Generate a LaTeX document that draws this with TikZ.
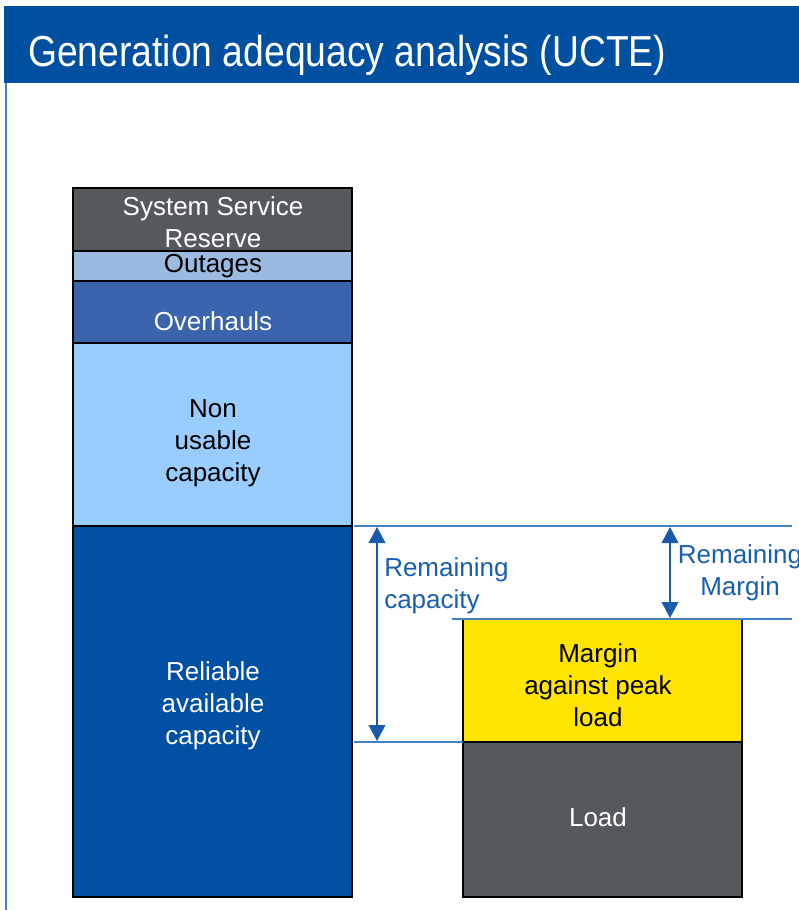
\documentclass[tikz,border=0pt]{standalone}
\usepackage{fontspec}
\setmainfont{Liberation Sans}
\usetikzlibrary{arrows.meta}
\definecolor{hdrblue}{RGB}{0,80,162}
\definecolor{ssrgrey}{RGB}{85,88,92}
\definecolor{outblue}{RGB}{155,186,224}
\definecolor{ovhblue}{RGB}{58,100,173}
\definecolor{nonblue}{RGB}{153,204,255}
\definecolor{relblue}{RGB}{0,80,165}
\definecolor{yel}{RGB}{255,229,0}
\definecolor{lineblue}{RGB}{70,128,196}
\definecolor{arrblue}{RGB}{25,90,170}
\definecolor{txtblue}{RGB}{25,95,175}
\tikzset{
  box/.style={draw=black, line width=1.5pt*0.75},
  lbl/.style={align=center, font=\fontsize{19.5pt}{24pt}\selectfont, inner sep=0pt},
  hline/.style={draw=lineblue, line width=1.5pt*0.75},
  dimarrow/.style={draw=arrblue, line width=1.8pt*0.75, {Triangle[width=12.5pt,length=12pt]}-{Triangle[width=12.5pt,length=12pt]}},
}
\begin{document}
\begin{tikzpicture}[x=0.75pt,y=-0.75pt]
\useasboundingbox (0,0) rectangle (799,910);
\clip (0,0) rectangle (799,910);
\fill[white] (0,0) rectangle (799,910);
% header
\fill[hdrblue] (4,6) rectangle (799,83);
\draw[lineblue, line width=1.2pt*0.75] (6,83) -- (6,910);
\node[anchor=base west, inner sep=0pt, text=white] (title) at (28,66)
  {\scalebox{0.86}[1]{\fontsize{32.5pt}{36pt}\selectfont Generation adequacy analysis (UCTE)}};
% left column
\path[box, fill=relblue] (73,526) rectangle (352,897);
\path[box, fill=nonblue] (73,343) rectangle (352,526);
\path[box, fill=ovhblue] (73,281) rectangle (352,343);
\path[box, fill=outblue] (73,251) rectangle (352,281);
\path[box, fill=ssrgrey] (73,188) rectangle (352,251);
% right column
\path[box, fill=ssrgrey] (463,742) rectangle (742,897);
\path[box, fill=yel] (463,619) rectangle (742,742);
% labels
\node[lbl, text=white] (ssr) at (213,222) {System Service\\Reserve};
\node[lbl, text=black] (out) at (213,266) {Outages};
\node[lbl, text=white] (ovh) at (213,321) {Overhauls};
\node[lbl, text=black] (non) at (213,443) {Non\\usable\\capacity};
\node[lbl, text=white] (rel) at (213,706) {Reliable\\available\\capacity};
\node[lbl, text=black] (mar) at (598,685) {Margin\\against peak\\load};
\node[lbl, text=white] (load) at (598,817) {Load};
% reference lines
\coordinate (l1a) at (354,526); \coordinate (l1b) at (792,526);
\coordinate (l2a) at (452,619); \coordinate (l2b) at (792,619);
\coordinate (l3a) at (354,742); \coordinate (l3b) at (463,742);
\draw[hline] (l1a) -- (l1b);
\draw[hline] (l2a) -- (l2b);
\draw[hline] (l3a) -- (l3b);
% dimension arrows
\coordinate (rc1) at (377,527); \coordinate (rc2) at (377,741);
\coordinate (rm1) at (670,527); \coordinate (rm2) at (670,618);
\draw[dimarrow] (rc1) -- (rc2);
\draw[dimarrow] (rm1) -- (rm2);
\node[lbl, text=txtblue, align=left, anchor=west] (rctext) at (384,586) {Remaining\\capacity};
\node[lbl, text=txtblue, align=center] (rmtext) at (740,573) {Remaining\\Margin};
\end{tikzpicture}
\end{document}
